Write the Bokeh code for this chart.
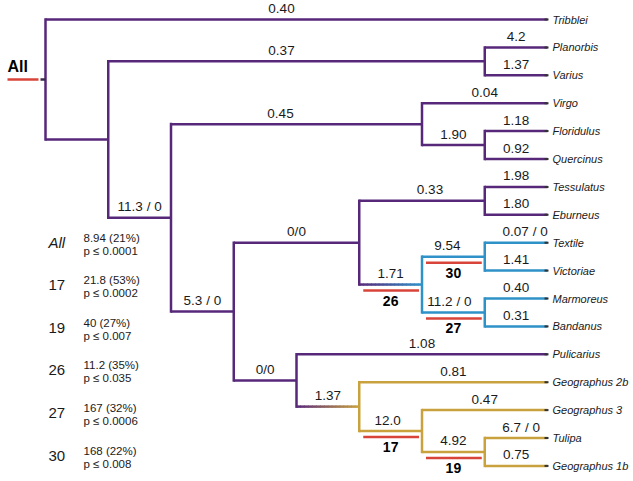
from bokeh.plotting import figure
from bokeh.models import Range1d, ColumnDataSource
from bokeh.core.properties import value
from bokeh.embed import file_html
from bokeh.resources import INLINE

# ---------------- data ----------------
node_names = ["root", "Tribblei", "N1", "N_PV", "Planorbis", "Varius", "N2", "N_V", "Virgo",
              "N_FQ", "Floridulus", "Quercinus", "N3", "N4", "N_TE", "Tessulatus", "Eburneus",
              "N26", "N30", "Textile", "Victoriae", "N27", "Marmoreus", "Bandanus", "N5",
              "Pulicarius", "N_G", "Geographus 2b", "N17", "Geographus 3", "N19", "Tulipa",
              "Geographus 1b"]
node_parents = [None, "root", "root", "N1", "N_PV", "N_PV", "N1", "N2", "N_V",
                "N_V", "N_FQ", "N_FQ", "N2", "N3", "N4", "N_TE", "N_TE",
                "N4", "N26", "N30", "N30", "N26", "N27", "N27", "N3",
                "N5", "N5", "N_G", "N_G", "N17", "N17", "N19",
                "N19"]
node_depth = [0, 8, 1, 7, 8, 8, 2, 6, 8,
              7, 8, 8, 3, 5, 7, 8, 8,
              6, 7, 8, 8, 7, 8, 8, 4,
              8, 5, 8, 6, 8, 7, 8,
              8]
branch_labels = ["", "0.40", "", "0.37", "4.2", "1.37", "11.3 / 0", "0.45", "0.04",
                 "1.90", "1.18", "0.92", "5.3 / 0", "0/0", "0.33", "1.98", "1.80",
                 "1.71", "9.54", "0.07 / 0", "1.41", "11.2 / 0", "0.40", "0.31", "0/0",
                 "1.08", "1.37", "0.81", "12.0", "0.47", "4.92", "6.7 / 0",
                 "0.75"]
clade_root_nodes = ["N26", "N_G"]
clade_keys = ["blue", "gold"]
mark_nodes = ["N26", "N30", "N27", "N17", "N19"]
mark_labels = ["26", "30", "27", "17", "19"]
root_label = "All"

legend_keys = ["All", "17", "19", "26", "27", "30"]
legend_stats = ["8.94 (21%)", "21.8 (53%)", "40 (27%)", "11.2 (35%)", "167 (32%)", "168 (22%)"]
legend_p = ["p \u2264 0.0001", "p \u2264 0.0002", "p \u2264 0.007", "p \u2264 0.035",
            "p \u2264 0.0006", "p \u2264 0.008"]

# ---------------- layout / style ----------------
W, H = 633, 481
PX_ROOT, PX_DX = 45, 62.75      # px of root, px per depth level
PY_TOP, PY_DY = 19, 27.9        # px of first leaf, px per leaf
COL = {"purple": "#57287a", "blue": "#2e92c8", "gold": "#c9a23e"}
RED = "#d8443a"
FONT = value("Liberation Sans")
LW = 2.5

def px2x(px):
    return (px - PX_ROOT) / PX_DX

def py2y(py):
    return (py - PY_TOP) / PY_DY

# ---------------- tree geometry ----------------
idx = {n: i for i, n in enumerate(node_names)}
children = {n: [] for n in node_names}
for n, par in zip(node_names, node_parents):
    if par is not None:
        children[par].append(n)

ypos = {}
leaf_counter = [0]
def assign(n):
    if not children[n]:
        ypos[n] = leaf_counter[0]
        leaf_counter[0] += 1
    else:
        for c in children[n]:
            assign(c)
        ys = [ypos[c] for c in children[n]]
        ypos[n] = (min(ys) + max(ys)) / 2
assign("root")

clade = {}
def color_assign(n, c):
    if n in clade_root_nodes:
        c = clade_keys[clade_root_nodes.index(n)]
    clade[n] = c
    for ch in children[n]:
        color_assign(ch, c)
color_assign("root", "purple")

def hex2rgb(h):
    return tuple(int(h[i:i + 2], 16) for i in (1, 3, 5))

def mix(c1, c2, t):
    a, b = hex2rgb(c1), hex2rgb(c2)
    return "#%02x%02x%02x" % tuple(int(round(a[k] + (b[k] - a[k]) * t)) for k in range(3))

segs = dict(x0=[], y0=[], x1=[], y1=[], c=[])
def add_seg(x0, y0, x1, y1, c):
    segs["x0"].append(x0); segs["y0"].append(y0)
    segs["x1"].append(x1); segs["y1"].append(y1); segs["c"].append(c)

for n, par in zip(node_names, node_parents):
    d = node_depth[idx[n]]
    if par is not None:
        pd = node_depth[idx[par]]
        c_from, c_to = COL[clade[par]], COL[clade[n]]
        if c_from == c_to:
            add_seg(pd, ypos[n], d, ypos[n], c_to)
        else:
            steps = 16
            for k in range(steps):
                t0, t1 = k / steps, (k + 1) / steps
                add_seg(pd + (d - pd) * t0, ypos[n], pd + (d - pd) * t1 + 0.01, ypos[n],
                        mix(c_from, c_to, (k + 0.5) / steps))
    if children[n]:
        ys = [ypos[c] for c in children[n]]
        add_seg(d, min(ys) - 0.045, d, max(ys) + 0.045, COL[clade[n]])

p = figure(width=W, height=H, output_backend="svg", toolbar_location=None,
           x_range=Range1d(px2x(0), px2x(W)), y_range=Range1d(py2y(H), py2y(0)),
           min_border=0, outline_line_color=None)
p.axis.visible = False
p.grid.visible = False
p.background_fill_color = "white"

# root stub
add_seg(px2x(40), ypos["root"], 0, ypos["root"], "#3a2a4a")
p.segment("x0", "y0", "x1", "y1", source=ColumnDataSource(segs), line_color="c",
          line_width=LW, line_cap="butt")
p.segment([px2x(7)], [ypos["root"]], [px2x(38)], [ypos["root"]], line_color=RED, line_width=2.5)
p.text([px2x(7)], [ypos["root"]], text=[root_label], text_font=FONT, text_font_size="16px",
       text_font_style="bold", text_baseline="middle", y_offset=-13, text_color="black")

# small dark tick at each leaf tip
leaves = [n for n in node_names if not children[n]]
p.segment([node_depth[idx[n]] - 3 / PX_DX for n in leaves], [ypos[n] for n in leaves],
          [node_depth[idx[n]] + 1 / PX_DX for n in leaves], [ypos[n] for n in leaves],
          line_color="#333333", line_width=2, line_cap="butt")

# branch labels
nudge = {"Tribblei": -15, "N_PV": -15, "N_V": -16, "N_TE": 8,
         "Textile": 9, "N30": -6, "N27": -4, "Tulipa": 5, "N17": -3}
bl = dict(x=[], y=[], t=[], dx=[])
for n, par, lab in zip(node_names, node_parents, branch_labels):
    if par is None or not lab:
        continue
    mid = (node_depth[idx[par]] + node_depth[idx[n]]) / 2
    bl["x"].append(mid); bl["y"].append(ypos[n]); bl["t"].append(lab)
    bl["dx"].append(nudge.get(n, 0))
p.text("x", "y", text="t", source=ColumnDataSource(bl), x_offset="dx", y_offset=-11,
       text_font=FONT, text_font_size="13.5px", text_align="center",
       text_baseline="middle", text_color="#1a1a1a")

# leaf labels
p.text([node_depth[idx[n]] for n in leaves], [ypos[n] for n in leaves], text=leaves,
       x_offset=5, text_font=FONT, text_font_size="11px", text_font_style="italic",
       text_baseline="middle", text_color="#1a1a1a")

# marked branches
mk = dict(x0=[], x1=[], y=[], yl=[], xm=[], t=[])
for n, lab in zip(mark_nodes, mark_labels):
    pd, d = node_depth[idx[node_parents[idx[n]]]], node_depth[idx[n]]
    mk["x0"].append(pd + px2x(PX_ROOT + 4)); mk["x1"].append(d - 3 / PX_DX)
    mk["y"].append(ypos[n] + 6 / PY_DY); mk["yl"].append(ypos[n])
    mk["xm"].append((pd + d) / 2); mk["t"].append(lab)
src_mk = ColumnDataSource(mk)
p.segment("x0", "y", "x1", "y", source=src_mk, line_color=RED, line_width=2.5)
p.text("xm", "yl", text="t", source=src_mk, y_offset=16, text_font=FONT, text_font_size="14px",
       text_font_style="bold", text_align="center", text_baseline="middle", text_color="black")

# significance legend
row_py = [242 + k * 42.6 for k in range(len(legend_keys))]
for k, (key, st, pv) in enumerate(zip(legend_keys, legend_stats, legend_p)):
    y = py2y(row_py[k])
    p.text([px2x(48)], [y], text=[key], text_font=FONT, text_font_size="15px",
           text_font_style="italic" if key == "All" else "normal", text_baseline="middle",
           text_color="#1a1a1a")
    p.text([px2x(83)], [y], text=[st], text_font=FONT, text_font_size="11.5px",
           text_baseline="middle", y_offset=-5, text_color="#1a1a1a")
    p.text([px2x(83)], [y], text=[pv], text_font=FONT, text_font_size="11.5px",
           text_baseline="middle", y_offset=8, text_color="#1a1a1a")

open("out.html", "w").write(file_html(p, INLINE))
